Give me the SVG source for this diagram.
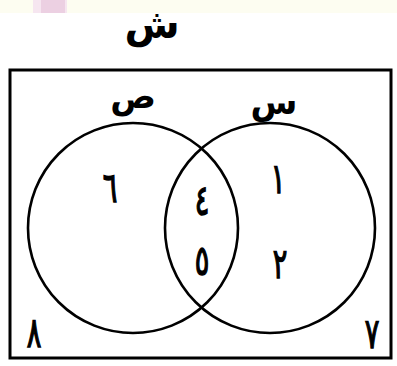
<svg xmlns="http://www.w3.org/2000/svg" width="397" height="366" viewBox="0 0 397 366">
<style>
.t{font-family:"DejaVu Sans",sans-serif;font-weight:bold;fill:#000;text-anchor:middle}
.d{font-size:32px;font-weight:normal;stroke:#000;stroke-width:1.1}
.c{fill:none;stroke:#000;stroke-width:2.6}
</style>
<rect x="0" y="0" width="397" height="366" fill="#fff"/>
<rect x="0" y="0" width="397" height="13" fill="#fdfdf1"/>
<rect x="33" y="0" width="34" height="13" fill="#f6e6f0"/>
<rect x="41" y="0" width="24" height="13" fill="#ecd0e2"/>
<g id="title"><text class="t" x="152" y="38" font-size="40">ش</text></g>
<g id="universe"><rect x="10" y="70" width="381" height="288" fill="none" stroke="#000" stroke-width="3"/>
<text class="t d" transform="translate(34 347) scale(0.85 1.3)">٨</text>
<text class="t d" transform="translate(372 348) scale(0.85 1.3)">٧</text></g>
<g id="setY"><circle class="c" cx="133" cy="228" r="105"/>
<text class="t" x="133" y="108" font-size="34">ص</text>
<text class="t d" transform="translate(110 202) scale(0.85 1.3)">٦</text></g>
<g id="setX"><circle class="c" cx="270" cy="228" r="105"/>
<text class="t" x="274" y="114" font-size="34">س</text>
<text class="t d" transform="translate(278 193) scale(0.85 1.3)">١</text>
<text class="t d" transform="translate(280 278) scale(0.85 1.3)">٢</text></g>
<g id="intersection">
<text class="t d" transform="translate(202 215) scale(0.85 1.3)">٤</text>
<text class="t d" transform="translate(202 275) scale(0.85 1.3)">٥</text></g>
</svg>
